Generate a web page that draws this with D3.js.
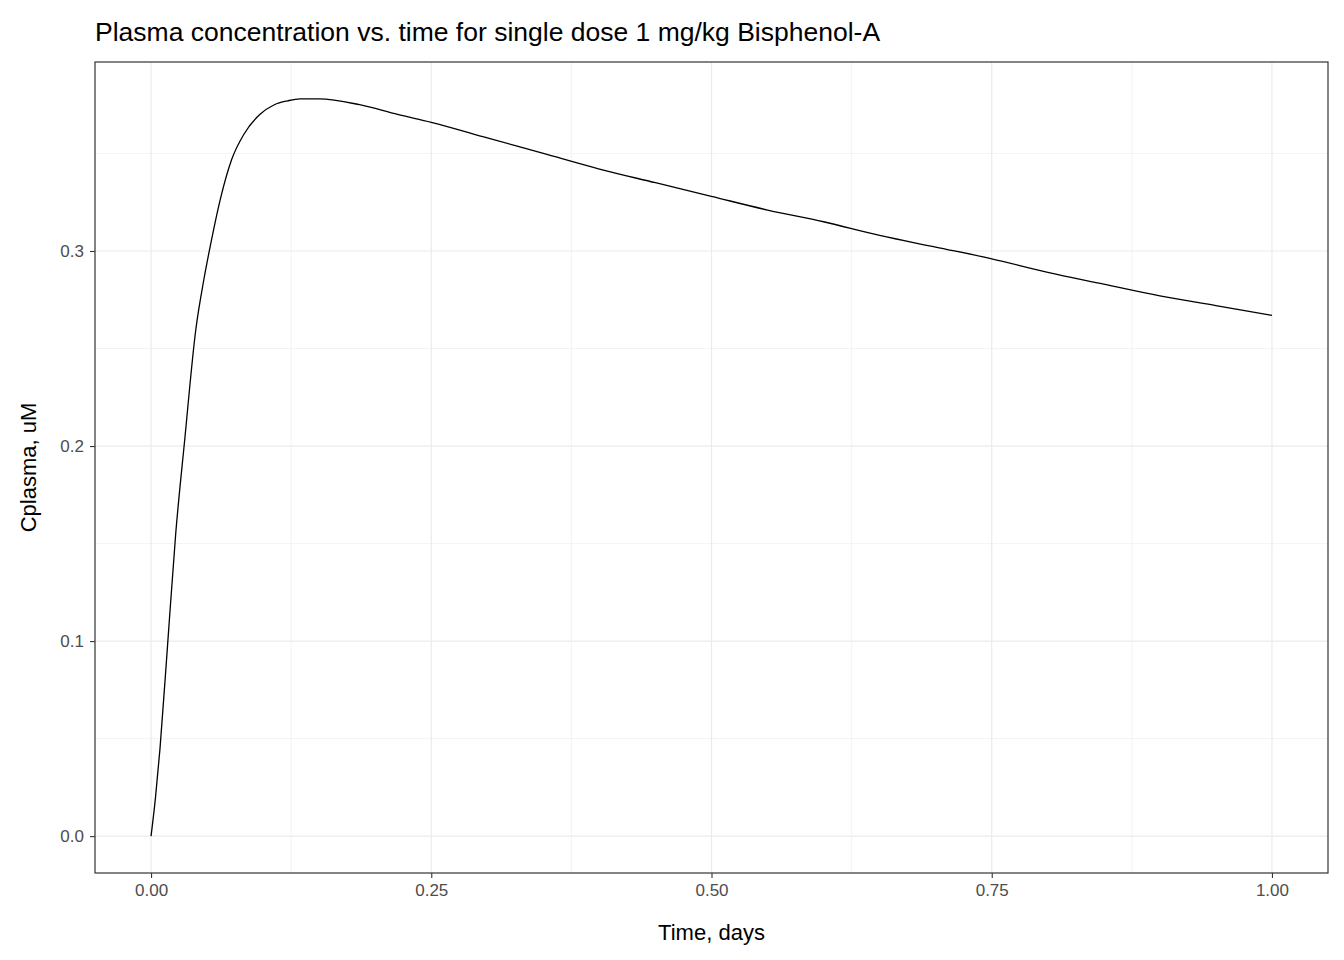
<!DOCTYPE html>
<html>
<head>
<meta charset="utf-8">
<script src="https://cdn.jsdelivr.net/npm/d3@7"></script>
<style>
body { margin: 0; background: #fff; }
text { font-family: "Liberation Sans", Arial, sans-serif; }
</style>
</head>
<body>
<svg id="chart" width="1344" height="960"></svg>
<script>
// values
const timeDays = [0, 0.004, 0.008, 0.015, 0.022, 0.03, 0.04, 0.047, 0.053, 0.062, 0.072, 0.083, 0.097, 0.11, 0.122, 0.133, 0.15, 0.186, 0.22, 0.25, 0.3, 0.35, 0.4, 0.45, 0.5, 0.55, 0.6, 0.65, 0.7, 0.75, 0.8, 0.85, 0.9, 0.95, 1.0];
const cplasma = [0, 0.02, 0.045, 0.1, 0.155, 0.203, 0.26, 0.285, 0.303, 0.327, 0.347, 0.36, 0.37, 0.375, 0.377, 0.378, 0.378, 0.375, 0.37, 0.366, 0.358, 0.35, 0.342, 0.335, 0.328, 0.321, 0.315, 0.308, 0.302, 0.296, 0.289, 0.283, 0.277, 0.272, 0.267];
const xTicks = [0, 0.25, 0.5, 0.75, 1.0];
const yTicks = [0, 0.1, 0.2, 0.3];

const svg = d3.select("#chart");
const pLeft = 95, pRight = 1328, pTop = 62, pBottom = 873;

const x = d3.scaleLinear().domain([-0.05, 1.05]).range([pLeft, pRight]);
const y = d3.scaleLinear().domain([-0.0189, 0.3969]).range([pBottom, pTop]);

// minor grid
const xMinor = [0.125, 0.375, 0.625, 0.875];
const yMinor = [0.05, 0.15, 0.25, 0.35];
svg.selectAll(".xm").data(xMinor).join("line")
    .attr("x1", d => x(d)).attr("x2", d => x(d)).attr("y1", pTop).attr("y2", pBottom)
    .attr("stroke", "#ebebeb").attr("stroke-width", 0.6);
svg.selectAll(".ym").data(yMinor).join("line")
    .attr("y1", d => y(d)).attr("y2", d => y(d)).attr("x1", pLeft).attr("x2", pRight)
    .attr("stroke", "#ebebeb").attr("stroke-width", 0.6);
// major grid
svg.selectAll(".xg").data(xTicks).join("line")
    .attr("x1", d => x(d)).attr("x2", d => x(d)).attr("y1", pTop).attr("y2", pBottom)
    .attr("stroke", "#ebebeb").attr("stroke-width", 1.2);
svg.selectAll(".yg").data(yTicks).join("line")
    .attr("y1", d => y(d)).attr("y2", d => y(d)).attr("x1", pLeft).attr("x2", pRight)
    .attr("stroke", "#ebebeb").attr("stroke-width", 1.2);

// line
const line = d3.line().x((d, i) => x(timeDays[i])).y(d => y(d)).curve(d3.curveMonotoneX);
svg.append("path").datum(cplasma).attr("d", line)
    .attr("fill", "none").attr("stroke", "#000").attr("stroke-width", 1.3);

// panel border
svg.append("rect").attr("x", pLeft).attr("y", pTop).attr("width", pRight - pLeft).attr("height", pBottom - pTop)
    .attr("fill", "none").attr("stroke", "#333").attr("stroke-width", 1.2);

// axes
const xAxis = svg.append("g").attr("transform", `translate(0,${pBottom})`)
    .call(d3.axisBottom(x).tickValues(xTicks).tickFormat(d3.format(".2f")).tickSize(5).tickPadding(6));
const yAxis = svg.append("g").attr("transform", `translate(${pLeft},0)`)
    .call(d3.axisLeft(y).tickValues(yTicks).tickFormat(d3.format(".1f")).tickSize(5).tickPadding(6));
[xAxis, yAxis].forEach(g => {
    g.select(".domain").remove();
    g.selectAll(".tick line").attr("stroke", "#333").attr("stroke-width", 1.1);
    g.selectAll(".tick text").attr("fill", "#4d4d4d").style("font-size", "17px")
        .style("font-family", "'Liberation Sans', Arial, sans-serif");
});

svg.append("text").attr("x", (pLeft + pRight) / 2).attr("y", 940).attr("text-anchor", "middle")
    .style("font-size", "22px").text("Time, days");
svg.append("text").attr("transform", `translate(36,${(pTop + pBottom) / 2}) rotate(-90)`)
    .attr("text-anchor", "middle").style("font-size", "22px").text("Cplasma, uM");
svg.append("text").attr("x", 95).attr("y", 41)
    .style("font-size", "26.5px").text("Plasma concentration vs. time for single dose 1 mg/kg Bisphenol-A");
</script>
</body>
</html>
